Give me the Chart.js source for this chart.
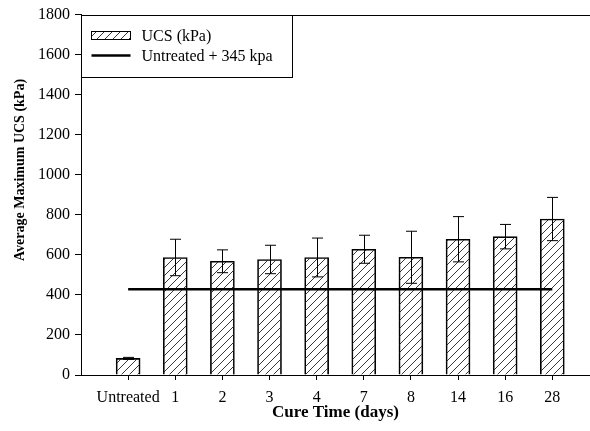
<!DOCTYPE html>
<html>
<head>
<meta charset="utf-8">
<script src="https://cdn.jsdelivr.net/npm/chart.js@4.4.1/dist/chart.umd.min.js"></script>
<style>
  body { margin: 0; background: #fff; }
  canvas { display: block; }
</style>
</head>
<body>
<canvas id="ucsChart" width="590" height="431"></canvas>
<script>
// data
var cureLabels = ['Untreated', '1', '2', '3', '4', '7', '8', '14', '16', '28'];
var ucsMean = [83, 587, 568, 577, 587, 628, 588, 678, 691, 779];
var ucsErr = [5, 91, 57, 71, 97, 70, 130, 113, 61, 108];
var yTicks = [0, 200, 400, 600, 800, 1000, 1200, 1400, 1600, 1800];
var treatedTarget = ucsMean[0] + 345;

var serif = "'Liberation Serif', 'Times New Roman', serif";

// diagonal hatch for the bars
function makeHatch() {
  var c = document.createElement('canvas');
  c.width = 8; c.height = 8;
  var p = c.getContext('2d');
  p.strokeStyle = '#222';
  p.lineWidth = 0.9;
  p.beginPath();
  p.moveTo(0, 8); p.lineTo(8, 0);
  p.moveTo(-1, 1); p.lineTo(1, -1);
  p.moveTo(7, 9); p.lineTo(9, 7);
  p.stroke();
  var bg = document.createElement('canvas').getContext('2d');
  return bg.createPattern(c, 'repeat');
}
var hatch = makeHatch();

var barPoints = ucsMean.map(function (v, i) { return {x: i, y: v}; });
var linePoints = [{x: 0, y: treatedTarget}, {x: cureLabels.length - 1, y: treatedTarget}];

// error bars, placed with the chart scales
var errorBars = {
  id: 'errorBars',
  afterDatasetsDraw: function (chart) {
    var ctx = chart.ctx, xs = chart.scales.x, ys = chart.scales.y;
    ctx.save();
    ctx.strokeStyle = '#000';
    ctx.lineWidth = 1;
    for (var i = 0; i < ucsMean.length; i++) {
      var x = Math.round(xs.getPixelForValue(i)) + 0.5;
      var top = ys.getPixelForValue(ucsMean[i] + ucsErr[i]);
      var bot = ys.getPixelForValue(ucsMean[i] - ucsErr[i]);
      ctx.beginPath();
      ctx.moveTo(x, top); ctx.lineTo(x, bot);
      ctx.moveTo(x - 5.5, top); ctx.lineTo(x + 5.5, top);
      ctx.moveTo(x - 5.5, bot); ctx.lineTo(x + 5.5, bot);
      ctx.stroke();
    }
    ctx.restore();
  }
};

// top frame, legend box and rotated y title
var decorations = {
  id: 'decorations',
  afterDraw: function (chart) {
    var ctx = chart.ctx, a = chart.chartArea;
    ctx.save();
    ctx.strokeStyle = '#000';
    ctx.lineWidth = 1;
    ctx.beginPath();
    ctx.moveTo(a.left, Math.round(a.top) + 0.5);
    ctx.lineTo(a.right, Math.round(a.top) + 0.5);
    ctx.stroke();

    var lx = Math.round(a.left) + 0.5, ly = Math.round(a.top) + 0.5;
    ctx.fillStyle = '#fff';
    ctx.fillRect(lx, ly, 211, 62);
    ctx.strokeRect(lx, ly, 211, 62);

    ctx.fillStyle = hatch;
    ctx.fillRect(lx + 10, ly + 16, 39, 8);
    ctx.strokeRect(lx + 10, ly + 16, 39, 8);

    ctx.lineWidth = 2.5;
    ctx.beginPath();
    ctx.moveTo(lx + 10, ly + 40);
    ctx.lineTo(lx + 49, ly + 40);
    ctx.stroke();

    ctx.fillStyle = '#000';
    ctx.font = '16px ' + serif;
    ctx.textBaseline = 'middle';
    ctx.textAlign = 'left';
    ctx.fillText('UCS (kPa)', lx + 60, ly + 21);
    ctx.fillText('Untreated + 345 kpa', lx + 60, ly + 41);

    ctx.translate(20, 170);
    ctx.rotate(-Math.PI / 2);
    ctx.textAlign = 'center';
    ctx.font = 'bold 14px ' + serif;
    ctx.fillText('Average Maximum UCS (kPa)', 0, 0);
    ctx.restore();
  }
};

new Chart(document.getElementById('ucsChart'), {
  type: 'bar',
  data: {
    datasets: [
      {
        type: 'line',
        label: 'Untreated + 345 kpa',
        data: linePoints,
        borderColor: '#000',
        borderWidth: 2.5,
        pointRadius: 0,
        fill: false,
        order: 0
      },
      {
        label: 'UCS (kPa)',
        data: barPoints,
        backgroundColor: hatch,
        borderColor: '#000',
        borderWidth: 1,
        barThickness: 24,
        order: 1
      }
    ]
  },
  options: {
    responsive: false,
    animation: false,
    devicePixelRatio: 1,
    layout: { padding: { top: 13, right: 0, left: 0, bottom: 0 } },
    plugins: { legend: { display: false }, tooltip: { enabled: false } },
    scales: {
      x: {
        type: 'linear',
        min: -1,
        max: 9.8,
        offset: false,
        afterBuildTicks: function (scale) {
          scale.ticks = cureLabels.map(function (l, i) { return {value: i}; });
        },
        afterFit: function (scale) { scale.height = 56; },
        ticks: {
          autoSkip: false,
          maxRotation: 0,
          padding: 8,
          color: '#000',
          font: { family: serif, size: 16 },
          callback: function (v) { return cureLabels[v]; }
        },
        grid: { drawOnChartArea: false, offset: false, tickLength: 5, color: '#000' },
        border: { color: '#000', width: 1 },
        title: {
          display: true,
          text: 'Cure Time (days)',
          color: '#000',
          font: { family: serif, size: 17, weight: 'bold' },
          padding: { top: 0, bottom: 8 }
        }
      },
      y: {
        min: 0,
        max: 1800,
        afterBuildTicks: function (scale) {
          scale.ticks = yTicks.map(function (v) { return {value: v}; });
        },
        afterFit: function (scale) { scale.width = 81; },
        ticks: {
          padding: 5,
          color: '#000',
          font: { family: serif, size: 16 },
          callback: function (v) { return String(v); }
        },
        grid: { drawOnChartArea: false, tickLength: 6, color: '#000' },
        border: { color: '#000', width: 1 }
      }
    }
  },
  plugins: [errorBars, decorations]
});
</script>
</body>
</html>
